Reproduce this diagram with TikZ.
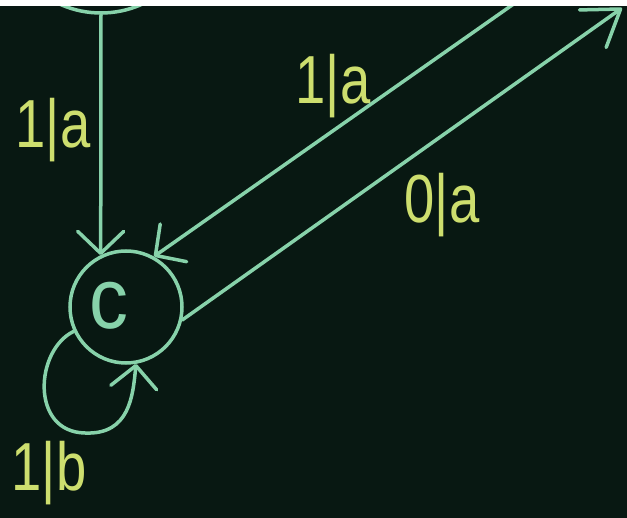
\documentclass[tikz,border=0pt]{standalone}
\usepackage{fontspec}
\setmainfont{Liberation Sans}
\usetikzlibrary{arrows.meta}
\definecolor{bg}{RGB}{8,24,18}
\definecolor{chalk}{RGB}{135,210,170}
\definecolor{chalky}{RGB}{205,222,110}
\newcommand{\narrow}[1]{\scalebox{0.8}[1]{#1}}
\begin{document}
\begin{tikzpicture}[x=1pt,y=-1pt,
  edge/.style={draw=chalk, line width=3.5pt, line cap=round},
  barb/.style={-{Straight Barb[length=22pt,width=46pt,round]}},
  longbarb/.style={-{Straight Barb[length=34pt,width=46pt,round]}},
  lbl/.style={text=chalky, font=\fontsize{68}{68}\selectfont, inner sep=0pt},
  state/.style={circle, draw=chalk, line width=3.5pt, inner sep=0pt}]
\fill[bg] (0,0) rectangle (627,518);
\useasboundingbox (0,0) rectangle (627,518);
\begin{scope}
\clip (0,0) rectangle (627,518);
\node[state, minimum size=200pt] (B) at (101,-87) {};
\node[state, minimum size=112pt] (C) at (126,307) {};
\node[text=chalk, font=\fontsize{82}{82}\selectfont, inner sep=0pt] (cl) at (109,306) {\scalebox{0.95}[1.05]{c}};
\coordinate (ua) at (525,-4);
\coordinate (lt) at (622,8);
\draw[edge, barb] (B.south) -- (C.116);
\draw[edge, barb] (ua) -- (C.61);
\draw[edge, longbarb] (C.-13) -- (lt);
\draw[edge, barb] (C.205) .. controls (35,350) and (30,432) .. (85,433) .. controls (130,435) and (133,395) .. (C.-80);
\node[lbl] (l1) at (53,130) {\narrow{1|a}};
\node[lbl] (l2) at (333,86) {\narrow{1|a}};
\node[lbl] (l3) at (442,205) {\narrow{0|a}};
\node[lbl] (l4) at (49,473) {\narrow{1|b}};
\end{scope}
\fill[white] (0,0) rectangle (627,6);
\end{tikzpicture}
\end{document}
